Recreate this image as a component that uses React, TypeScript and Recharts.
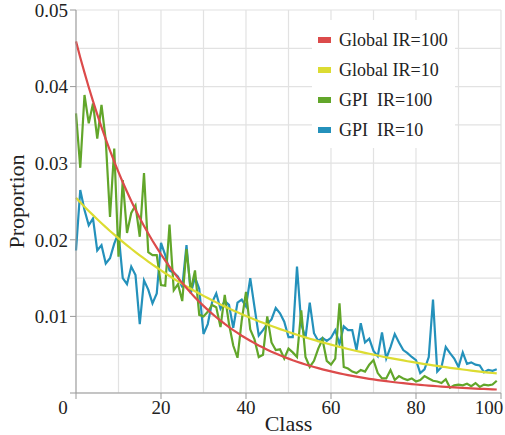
import { LineChart, Line, XAxis, YAxis, CartesianGrid } from 'recharts';

// proportion per class (0..99)
const globalIR100 = [
  0.04590, 0.04381, 0.04182, 0.03992, 0.03811, 0.03638, 0.03472, 0.03314, 0.03164, 0.03020,
  0.02883, 0.02752, 0.02627, 0.02507, 0.02393, 0.02285, 0.02181, 0.02082, 0.01987, 0.01897,
  0.01811, 0.01728, 0.01650, 0.01575, 0.01503, 0.01435, 0.01370, 0.01307, 0.01248, 0.01191,
  0.01137, 0.01085, 0.01036, 0.00989, 0.00944, 0.00901, 0.00860, 0.00821, 0.00784, 0.00748,
  0.00714, 0.00682, 0.00651, 0.00621, 0.00593, 0.00566, 0.00540, 0.00516, 0.00492, 0.00470,
  0.00449, 0.00428, 0.00409, 0.00390, 0.00372, 0.00355, 0.00339, 0.00324, 0.00309, 0.00295,
  0.00282, 0.00269, 0.00257, 0.00245, 0.00234, 0.00223, 0.00213, 0.00203, 0.00194, 0.00185,
  0.00177, 0.00169, 0.00161, 0.00154, 0.00147, 0.00140, 0.00134, 0.00128, 0.00122, 0.00116,
  0.00111, 0.00106, 0.00101, 0.00097, 0.00092, 0.00088, 0.00084, 0.00080, 0.00077, 0.00073,
  0.00070, 0.00067, 0.00064, 0.00061, 0.00058, 0.00055, 0.00053, 0.00050, 0.00048, 0.00046,
];

const globalIR10 = [
  0.02548, 0.02489, 0.02432, 0.02376, 0.02322, 0.02268, 0.02216, 0.02165, 0.02115, 0.02067,
  0.02019, 0.01973, 0.01928, 0.01883, 0.01840, 0.01798, 0.01756, 0.01716, 0.01676, 0.01638,
  0.01600, 0.01563, 0.01528, 0.01492, 0.01458, 0.01425, 0.01392, 0.01360, 0.01329, 0.01298,
  0.01268, 0.01239, 0.01211, 0.01183, 0.01156, 0.01129, 0.01103, 0.01078, 0.01053, 0.01029,
  0.01005, 0.00982, 0.00959, 0.00937, 0.00916, 0.00895, 0.00874, 0.00854, 0.00834, 0.00815,
  0.00797, 0.00778, 0.00760, 0.00743, 0.00726, 0.00709, 0.00693, 0.00677, 0.00661, 0.00646,
  0.00631, 0.00617, 0.00603, 0.00589, 0.00575, 0.00562, 0.00549, 0.00536, 0.00524, 0.00512,
  0.00500, 0.00489, 0.00477, 0.00466, 0.00456, 0.00445, 0.00435, 0.00425, 0.00415, 0.00406,
  0.00396, 0.00387, 0.00378, 0.00370, 0.00361, 0.00353, 0.00345, 0.00337, 0.00329, 0.00322,
  0.00314, 0.00307, 0.00300, 0.00293, 0.00286, 0.00280, 0.00273, 0.00267, 0.00261, 0.00255,
];

const gpiIR100 = [
  0.0365, 0.0294, 0.0389, 0.0352, 0.0378, 0.0332, 0.0376, 0.0330, 0.0230, 0.0319,
  0.0178, 0.0278, 0.0209, 0.0235, 0.0245, 0.0204, 0.0287, 0.0184, 0.0180, 0.0180,
  0.0141, 0.0140, 0.0220, 0.0134, 0.0142, 0.0120, 0.0188, 0.0134, 0.0160, 0.0102,
  0.0100, 0.0106, 0.0115, 0.0112, 0.0086, 0.0128, 0.0090, 0.0062, 0.0046, 0.0095,
  0.0132, 0.0083, 0.0070, 0.0047, 0.0050, 0.0100, 0.0066, 0.0056, 0.0057, 0.0045,
  0.0058, 0.0053, 0.0047, 0.0108, 0.0047, 0.0034, 0.0042, 0.0058, 0.0070, 0.0042,
  0.0037, 0.0045, 0.0117, 0.0034, 0.0032, 0.0028, 0.0026, 0.0030, 0.0028, 0.0037,
  0.0043, 0.0026, 0.0019, 0.0019, 0.0030, 0.0017, 0.0022, 0.0019, 0.0017, 0.0019,
  0.0015, 0.0017, 0.0022, 0.0019, 0.0016, 0.0015, 0.0013, 0.0018, 0.0007, 0.0010,
  0.0011, 0.0010, 0.0012, 0.0009, 0.0013, 0.0008, 0.0011, 0.0010, 0.0011, 0.0016,
];

const gpiIR10 = [
  0.0186, 0.0265, 0.0239, 0.0219, 0.0228, 0.0186, 0.0193, 0.0169, 0.0176, 0.0195,
  0.0209, 0.0150, 0.0142, 0.0165, 0.0154, 0.0090, 0.0147, 0.0135, 0.0117, 0.0130,
  0.0196, 0.0180, 0.0160, 0.0157, 0.0152, 0.0138, 0.0193, 0.0130, 0.0151, 0.0136,
  0.0077, 0.0090, 0.0118, 0.0130, 0.0110, 0.0120, 0.0115, 0.0085, 0.0118, 0.0122,
  0.0113, 0.0150, 0.0112, 0.0075, 0.0082, 0.0090, 0.0096, 0.0111, 0.0104, 0.0093,
  0.0073, 0.0073, 0.0165, 0.0090, 0.0072, 0.0118, 0.0078, 0.0068, 0.0072, 0.0068,
  0.0072, 0.0082, 0.0064, 0.0087, 0.0082, 0.0082, 0.0056, 0.0091, 0.0066, 0.0071,
  0.0055, 0.0048, 0.0079, 0.0045, 0.0060, 0.0077, 0.0066, 0.0056, 0.0052, 0.0047,
  0.0043, 0.0026, 0.0031, 0.0047, 0.0122, 0.0028, 0.0034, 0.0060, 0.0052, 0.0045,
  0.0034, 0.0053, 0.0038, 0.0040, 0.0037, 0.0036, 0.0027, 0.0030, 0.0029, 0.0031,
];

const xTicks = [0, 10, 20, 30, 40, 50, 60, 70, 80, 90, 100];
const yTicks = [0, 0.005, 0.01, 0.015, 0.02, 0.025, 0.03, 0.035, 0.04, 0.045, 0.05];

const series = [
  { key: 'g100', name: 'Global IR=100', color: '#dc4b4b' },
  { key: 'g10', name: 'Global IR=10', color: '#dcdc32' },
  { key: 'p100', name: 'GPI  IR=100', color: '#62a62a' },
  { key: 'p10', name: 'GPI  IR=10', color: '#2491bb' },
];

const data = globalIR100.map((v, i) => ({
  cls: i,
  g100: v,
  g10: globalIR10[i],
  p100: gpiIR100[i],
  p10: gpiIR10[i],
}));

const FONT = 'Liberation Serif, Times New Roman, Times, serif';

const XTick = ({ x, y, payload }: any) => {
  const v = payload.value;
  if (v % 20 !== 0) return null;
  let dx = 0;
  if (v === 0) dx = -13;
  if (v === 100) dx = -12;
  return (
    <g>
      <line x1={x} x2={x} y1={y - 8} y2={y - 2} stroke="#999" strokeWidth={1} />
      <text x={x + dx} y={y} dy="0.71em" textAnchor="middle" fontSize={19} fill="#222" style={{ fontFamily: FONT }}>
        {v}
      </text>
    </g>
  );
};

const YTick = ({ x, y, payload }: any) => {
  const v = payload.value;
  const major = Math.abs(Math.round(v * 100) - v * 100) < 1e-6;
  if (!major) return null;
  return (
    <g>
      <line x1={x + 2} x2={x + 8} y1={y} y2={y} stroke="#999" strokeWidth={1} />
      {v > 0 && (
        <text x={x} y={y} dy="0.355em" textAnchor="end" fontSize={19} fill="#222" style={{ fontFamily: FONT }}>
          {v.toFixed(2)}
        </text>
      )}
    </g>
  );
};

export default function App() {
  return (
    <div style={{ position: 'fixed', left: 0, top: 0, width: 505, height: 435, background: '#fff', fontFamily: FONT }}>
      <LineChart width={505} height={435} data={data} margin={{ top: 10, right: 4, left: 10, bottom: 0 }} style={{ fontFamily: FONT }}>
        <CartesianGrid stroke="#e2e2e2" strokeWidth={1.2} />
        <XAxis
          dataKey="cls"
          type="number"
          domain={[0, 100]}
          ticks={xTicks}
          interval={0}
          tick={<XTick />}
          tickLine={false}
          axisLine={{ stroke: '#999' }}
          height={42}
          label={{ value: 'Class', position: 'insideBottom', offset: 4, fontSize: 22, fill: '#222', style: { fontFamily: FONT } }}
        />
        <YAxis
          type="number"
          domain={[0, 0.05]}
          ticks={yTicks}
          interval={0}
          tick={<YTick />}
          tickLine={false}
          axisLine={{ stroke: '#999' }}
          width={66}
          allowDataOverflow
          label={{ value: 'Proportion', angle: -90, position: 'insideLeft', offset: 6, fontSize: 22, fill: '#222', style: { textAnchor: 'middle', fontFamily: FONT } }}
        />
        <Line type="linear" dataKey="p10" stroke="#2491bb" strokeWidth={2.2} dot={false} isAnimationActive={false} />
        <Line type="linear" dataKey="p100" stroke="#62a62a" strokeWidth={2.2} dot={false} isAnimationActive={false} />
        <Line type="linear" dataKey="g10" stroke="#dcdc32" strokeWidth={2.2} dot={false} isAnimationActive={false} />
        <Line type="linear" dataKey="g100" stroke="#dc4b4b" strokeWidth={2.2} dot={false} isAnimationActive={false} />
      </LineChart>
      <div style={{ position: 'absolute', left: 312, top: 20, width: 143, height: 128, background: '#fff', boxSizing: 'border-box', paddingTop: 5 }}>
        {series.map((s) => (
          <div key={s.key} style={{ display: 'flex', alignItems: 'center', height: 30 }}>
            <span style={{ display: 'inline-block', width: 13, height: 6, background: s.color, marginLeft: 6, marginRight: 8 }} />
            <span style={{ fontSize: 18, color: '#222', whiteSpace: 'pre', lineHeight: '20px' }}>{s.name}</span>
          </div>
        ))}
      </div>
    </div>
  );
}
